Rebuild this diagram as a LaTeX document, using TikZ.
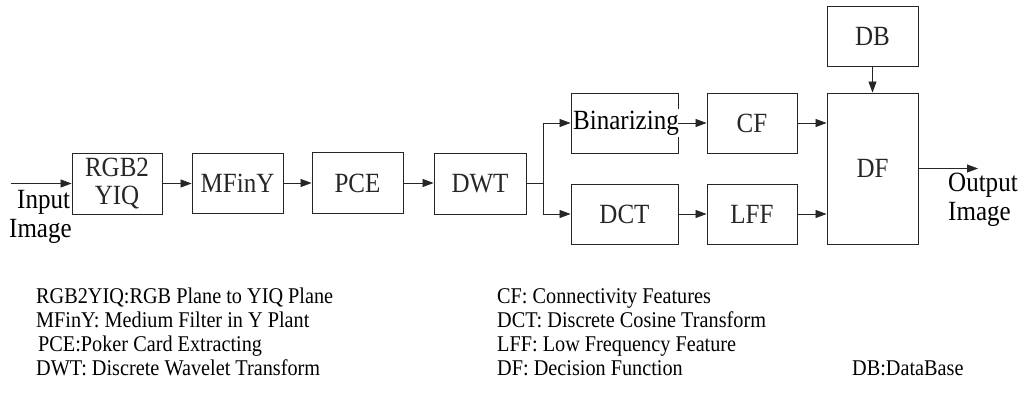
\documentclass[tikz,border=0pt]{standalone}
\usepackage{fontspec}
% a slightly condensed serif, set large, for tall narrow letters
\setmainfont{Liberation Serif}[FakeStretch=0.9]
\usetikzlibrary{arrows.meta}

\tikzset{
  ink/.style={black!85},
  blk/.style={draw, ink, line width=0.9pt, inner sep=0pt, rectangle,
              font=\fontsize{27.8}{28}\selectfont, align=center},
  lbl/.style={inner sep=0pt, font=\fontsize{27.8}{25}\selectfont},
  leg/.style={inner sep=0pt, anchor=base west, font=\fontsize{22.5}{24}\selectfont},
  flow/.style={ink, line width=0.8pt, -{Triangle[length=11pt,width=8pt]}},
  wire/.style={ink, line width=0.8pt}
}

\begin{document}
\begin{tikzpicture}[x=1pt, y=-1pt]
\useasboundingbox (0,0) rectangle (1023,401);

% processing blocks
\node[blk, minimum width=90pt, minimum height=61pt] (rgb)   at (117,183.5)   {RGB2\\YIQ};
\node[blk, minimum width=91pt, minimum height=60pt] (mfiny) at (237.5,183)   {MFinY};
\node[blk, minimum width=91pt, minimum height=61pt] (pce)   at (357.5,183)   {PCE};
\node[blk, minimum width=92pt, minimum height=61pt] (dwt)   at (480,183.5)   {DWT};
\node[blk, minimum width=107pt, minimum height=60pt] (bin)  at (624.5,123)   {};
\node[lbl, fill=white, inner ysep=2pt] (bintext) at (626,123) {Binarizing};
\node[blk, minimum width=107pt, minimum height=60pt] (dct)  at (624.5,214)   {DCT};
\node[blk, minimum width=90pt, minimum height=60pt] (cf)    at (752,123)     {CF};
\node[blk, minimum width=90pt, minimum height=60pt] (lff)   at (752,214)     {LFF};
\node[blk, minimum width=91pt, minimum height=151pt] (df)   at (872.5,168.5) {DF};
\node[blk, minimum width=91pt, minimum height=60pt] (db)    at (872.5,36)    {DB};

% input and output
\coordinate (in)  at (11,183.5);
\coordinate (out) at (978,168.5);
\node[lbl, anchor=base west] (inA)  at (17,208)  {Input};
\node[lbl, anchor=base west] (inB)  at (9,237)   {Image};
\node[lbl, anchor=base west] (outA) at (948,192) {Output};
\node[lbl, anchor=base west] (outB) at (948,220) {Image};

% connectors
\draw[flow] (in) -- (rgb.west);
\draw[flow] (rgb.east) -- (mfiny.west |- rgb.east);
\draw[flow] (mfiny.east) -- (pce.west);
\draw[flow] (pce.east) -- (dwt.west |- pce.east);
\draw[wire] (dwt.east) -- ++(17,0) coordinate (split);
\draw[flow] (split) |- (bin.west);
\draw[flow] (split) |- (dct.west);
\draw[flow] (bin.east) -- (cf.west);
\draw[flow] (dct.east) -- (lff.west);
\draw[flow] (cf.east) -- (cf.east -| df.west);
\draw[flow] (lff.east) -- (lff.east -| df.west);
\draw[flow] (db.south) -- (df.north);
\draw[flow] (df.east |- out) -- (out);

% abbreviations
\node[leg] (l1) at (36,303)  {RGB2YIQ:RGB Plane to YIQ Plane};
\node[leg] (l2) at (36,327)  {MFinY: Medium Filter in Y Plant};
\node[leg] (l3) at (38,351)  {PCE:Poker Card Extracting};
\node[leg] (l4) at (36,375)  {DWT: Discrete Wavelet Transform};
\node[leg] (r1) at (497,303) {CF: Connectivity Features};
\node[leg] (r2) at (497,327) {DCT: Discrete Cosine Transform};
\node[leg] (r3) at (497,351) {LFF: Low Frequency Feature};
\node[leg] (r4) at (497,375) {DF: Decision Function};
\node[leg] (r5) at (852,375) {DB:DataBase};
\end{tikzpicture}
\end{document}
